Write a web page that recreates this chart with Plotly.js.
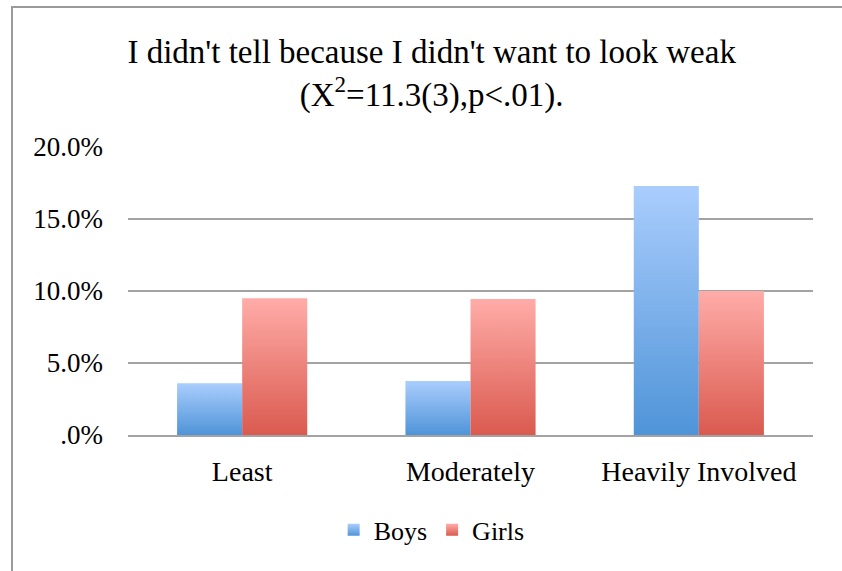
<!DOCTYPE html>
<html>
<head>
<meta charset="utf-8">
<script src="https://cdn.plot.ly/plotly-3.0.1.min.js"></script>
<style>
  html, body { margin: 0; padding: 0; background: #fff; width: 842px; height: 571px; overflow: hidden; }
  #frame { position: absolute; left: 11px; top: 6px; width: 831px; height: 565px;
           border-left: 2px solid #9a9a9a; border-top: 2px solid #9a9a9a; }
  #chart { width: 829px; height: 563px; }
</style>
</head>
<body>
<div id="frame"><div id="chart"></div></div>
<script>
const categories = ["Least", "Moderately", "Heavily Involved"];
const boys = [0.036, 0.0375, 0.173];
const girls = [0.095, 0.0945, 0.100];
const tickVals = [0, 0.05, 0.10, 0.15, 0.20];
const tickText = [".0%", "5.0%", "10.0%", "15.0%", "20.0%"];
const seriesNames = ["Boys", "Girls"];

const font = "Liberation Serif, Times New Roman, serif";

const data = [
  { type: "bar", name: seriesNames[0], x: categories, y: boys,
    marker: { color: "#79aae6", line: { width: 0 } }, hoverinfo: "none" },
  { type: "bar", name: seriesNames[1], x: categories, y: girls,
    marker: { color: "#ec7e77", line: { width: 0 } }, hoverinfo: "none" }
];

const layout = {
  width: 829, height: 563,
  margin: { l: 115, r: 29, t: 139, b: 136 },
  paper_bgcolor: "#fff", plot_bgcolor: "#fff",
  font: { family: font, color: "#000", size: 26 },
  title: {
    text: "I didn't tell because I didn't want to look weak<br>(X<sup>2</sup>=11.3(3),p<.01).",
    font: { family: font, size: 33, color: "#000" },
    xref: "container", x: 0.505, xanchor: "center",
    yref: "container", y: 0.903, yanchor: "top"
  },
  barmode: "group", bargap: 0.43, bargroupgap: 0,
  xaxis: {
    showgrid: false, showline: true, linecolor: "#a3a3a3", linewidth: 2,
    ticks: "", tickfont: { size: 28 }, ticklabelstandoff: 10
  },
  yaxis: {
    range: [0, 0.20], tickmode: "array", tickvals: tickVals, ticktext: tickText,
    showgrid: true, gridcolor: "#a3a3a3", gridwidth: 2,
    zeroline: false, showline: false, ticks: "",
    tickfont: { size: 27 }, ticklabelstandoff: 24
  },
  showlegend: true,
  legend: {
    orientation: "h", xref: "container", x: 0.505, xanchor: "center",
    yref: "container", y: 0.073, yanchor: "middle",
    font: { size: 26 }, itemwidth: 30, tracegroupgap: 0
  }
};

Plotly.newPlot("chart", data, layout, { displayModeBar: false, staticPlot: true }).then(function (gd) {
  const svg = gd.querySelector("svg.main-svg");
  const ns = "http://www.w3.org/2000/svg";
  let defs = svg.querySelector("defs");
  function grad(id, top, bottom) {
    const g = document.createElementNS(ns, "linearGradient");
    g.setAttribute("id", id);
    g.setAttribute("x1", "0"); g.setAttribute("y1", "0");
    g.setAttribute("x2", "0"); g.setAttribute("y2", "1");
    const s1 = document.createElementNS(ns, "stop");
    s1.setAttribute("offset", "0"); s1.setAttribute("stop-color", top);
    const s2 = document.createElementNS(ns, "stop");
    s2.setAttribute("offset", "1"); s2.setAttribute("stop-color", bottom);
    g.appendChild(s1); g.appendChild(s2);
    defs.appendChild(g);
  }
  grad("gBoys", "#aacdfd", "#4f94d8");
  grad("gGirls", "#ffaca8", "#da5a4f");
  const ids = ["gBoys", "gGirls"];
  gd.querySelectorAll(".barlayer .trace.bars").forEach(function (t, i) {
    t.querySelectorAll("path").forEach(function (p) { p.style.fill = "url(#" + ids[i] + ")"; });
  });
  gd.querySelectorAll(".legend .traces").forEach(function (t, i) {
    t.querySelectorAll(".legendpoints path").forEach(function (p) { p.style.fill = "url(#" + ids[i] + ")"; });
  });
});
</script>
</body>
</html>
